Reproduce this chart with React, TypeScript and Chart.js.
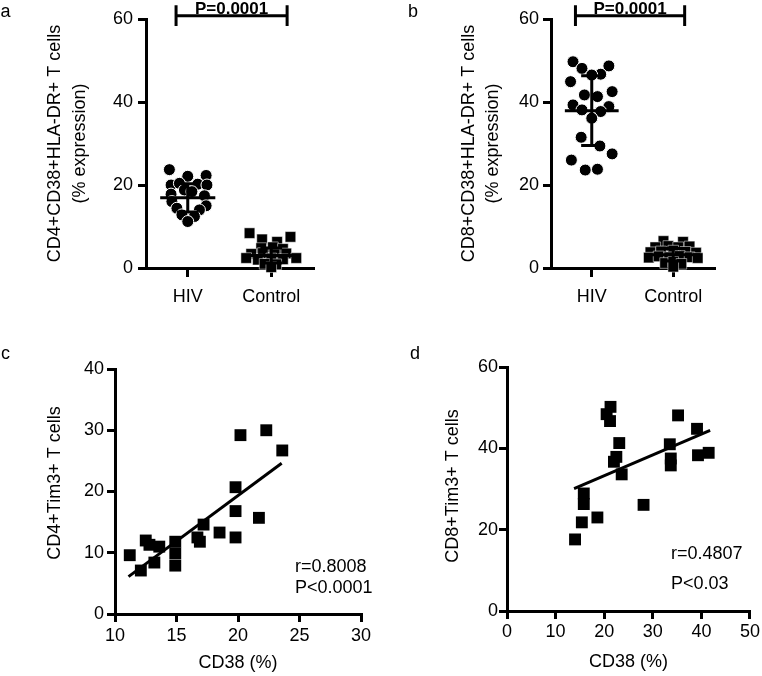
import React, { useEffect, useRef } from "react";
import { Chart, registerables } from "chart.js";

Chart.register(...registerables);

const FONT = '"Liberation Sans", Arial, Helvetica, sans-serif';

// ---------- Panels a & b (dot plots) ----------
const groups = ["HIV", "Control"];

// Panel a: CD4+CD38+HLA-DR+ T cells (% expression)
const aHivValues = [23.7, 22.1, 22.3, 20.0, 20.4, 20.2, 20.0, 18.8, 18.4, 17.8, 17.4, 16.0, 15.0, 14.4, 14.0, 12.8, 12.4, 11.2];
const aHivJitter = [-0.22, 0.0, 0.22, -0.2, -0.1, 0.12, 0.23, -0.04, 0.05, -0.2, 0.2, -0.19, 0.22, -0.13, 0.14, -0.07, 0.08, 0.0];
const aCtrlValues = [8.4, 6.9, 6.3, 7.5, 4.8, 5.0, 4.6, 3.4, 3.6, 3.3, 3.5, 2.4, 2.0, 2.3, 2.1, 2.4, 1.0, 0.9, 0.2];
const aCtrlJitter = [-0.26, -0.11, 0.07, 0.23, -0.12, 0.02, 0.14, -0.24, -0.1, 0.04, 0.18, -0.3, -0.16, 0.0, 0.14, 0.3, -0.08, 0.06, 0.0];
const aMeans = [16.9, 3.0];
const aSDs = [3.4, 1.8];
const aBracketX = [-0.14, 1.19];
const aBracketY = 60.8;
const aPText = "P=0.0001";

// Panel b: CD8+CD38+HLA-DR+ T cells (% expression)
const bHivValues = [49.7, 48.1, 48.7, 46.7, 46.5, 44.9, 42.5, 41.7, 41.3, 39.3, 38.9, 38.1, 37.7, 36.1, 31.5, 29.4, 27.5, 26.0, 23.6, 23.8];
const bHivJitter = [-0.23, -0.12, 0.21, 0.11, 0.0, -0.26, 0.25, -0.09, 0.07, -0.23, 0.21, -0.12, 0.11, 0.0, -0.13, 0.1, 0.25, -0.25, -0.08, 0.07];
const bCtrlValues = [6.5, 6.3, 5.0, 5.3, 5.0, 5.2, 3.8, 4.0, 4.2, 3.9, 3.7, 2.5, 2.8, 2.6, 2.9, 2.6, 2.4, 1.2, 1.5, 1.0, 0.3];
const bCtrlJitter = [-0.12, 0.12, -0.22, -0.06, 0.06, 0.2, -0.28, -0.15, 0.0, 0.15, 0.28, -0.3, -0.18, -0.05, 0.08, 0.2, 0.3, -0.1, 0.0, 0.1, 0.0];
const bMeans = [37.9, 3.2];
const bSDs = [8.4, 1.5];
const bBracketX = [-0.2, 1.14];
const bBracketY = 60.8;
const bPText = "P=0.0001";

// ---------- Panel c: CD4+Tim3+ vs CD38 ----------
const cX = [11.2, 12.1, 12.5, 12.8, 13.2, 13.6, 14.9, 14.9, 14.9, 16.7, 16.9, 17.2, 18.5, 19.8, 19.8, 19.8, 20.2, 21.7, 22.3, 23.6];
const cY = [9.6, 7.1, 12.0, 11.3, 8.4, 11.0, 11.8, 9.9, 7.9, 12.5, 11.8, 14.6, 13.3, 12.5, 16.8, 20.7, 29.2, 15.7, 30.0, 26.7];
const cFitX = [11.1, 23.55];
const cFitY = [6.1, 24.6];
const cStats = ["r=0.8008", "P<0.0001"];

// ---------- Panel d: CD8+Tim3+ vs CD38 ----------
const dX = [14.0, 15.4, 15.8, 15.8, 18.6, 20.5, 21.3, 21.2, 22.0, 22.5, 23.1, 23.6, 28.1, 33.5, 33.7, 33.7, 35.2, 39.1, 39.3, 41.5];
const dY = [17.6, 21.8, 26.3, 28.9, 23.0, 48.4, 50.2, 46.7, 36.7, 37.9, 41.3, 33.6, 26.1, 41.0, 37.5, 35.8, 48.1, 44.8, 38.3, 38.9];
const dFitX = [13.8, 41.8];
const dFitY = [30.1, 44.4];
const dStats = ["r=0.4807", "P<0.03"];

// ---------- helpers ----------
const MEAN_HALF = 0.33;
const CAP_HALF = 0.13;
const BRACKET_CAP = 2.5;

type Note = {
  text: string | string[];
  x: number | ((c: any) => number);
  y: number | ((c: any) => number);
  font: string;
  align?: CanvasTextAlign;
  baseline?: CanvasTextBaseline;
  rotate?: number;
  lineHeight?: number;
};

function notesPlugin(notes: Note[]) {
  return {
    id: "notes",
    afterDraw(chart: any) {
      const ctx = chart.ctx as CanvasRenderingContext2D;
      for (const n of notes) {
        const x = typeof n.x === "function" ? n.x(chart) : n.x;
        const y = typeof n.y === "function" ? n.y(chart) : n.y;
        ctx.save();
        ctx.fillStyle = "#000";
        ctx.translate(x, y);
        if (n.rotate) ctx.rotate(n.rotate);
        ctx.font = n.font;
        ctx.textAlign = n.align ?? "left";
        ctx.textBaseline = n.baseline ?? "alphabetic";
        const lines = Array.isArray(n.text) ? n.text : [n.text];
        lines.forEach((l, i) => ctx.fillText(l, 0, i * (n.lineHeight ?? 0)));
        ctx.restore();
      }
    },
  };
}

const tickFont = { family: FONT, size: 18 };
const border = { display: true, color: "#000", width: 3 };
function grid(tickLength: number) {
  return { display: true, drawOnChartArea: false, drawTicks: true, tickLength, lineWidth: 3, color: "#000" };
}

function summaryPoints(means: number[], sds: number[]) {
  const pts: any[] = [];
  means.forEach((m, i) => {
    const s = sds[i];
    pts.push({ x: i - MEAN_HALF, y: m }, { x: i + MEAN_HALF, y: m }, { x: i, y: null });
    pts.push({ x: i, y: m - s }, { x: i, y: m + s }, { x: i, y: null });
    pts.push({ x: i - CAP_HALF, y: m + s }, { x: i + CAP_HALF, y: m + s }, { x: i, y: null });
    pts.push({ x: i - CAP_HALF, y: m - s }, { x: i + CAP_HALF, y: m - s }, { x: i, y: null });
  });
  return pts;
}

function bracketPoints(bx: number[], by: number) {
  return [
    { x: bx[0], y: by - BRACKET_CAP }, { x: bx[0], y: by + BRACKET_CAP }, { x: bx[0], y: null },
    { x: bx[0], y: by }, { x: bx[1], y: by }, { x: bx[1], y: null },
    { x: bx[1], y: by - BRACKET_CAP }, { x: bx[1], y: by + BRACKET_CAP },
  ];
}

const lineDs = (data: any[]) => ({
  data,
  showLine: true,
  borderColor: "#000",
  backgroundColor: "#000",
  borderWidth: 3,
  pointRadius: 0,
  spanGaps: false,
  clip: false as any,
});

function dotConfig(p: {
  hiv: number[]; hivJ: number[]; ctrl: number[]; ctrlJ: number[];
  means: number[]; sds: number[]; bx: number[]; by: number; pText: string;
  letter: string; letterX: number; title: string[]; titleX: number; titleLH: number;
  yWidth: number; padRight: number; yTickPad: number; ctrlRadius: number;
}) {
  const notes: Note[] = [
    { text: p.letter, x: p.letterX, y: 17, font: `18px ${FONT}` },
    {
      text: p.pText,
      x: (c) => (c.scales.x.getPixelForValue(p.bx[0]) + c.scales.x.getPixelForValue(p.bx[1])) / 2,
      y: 13.5,
      font: `bold 17px ${FONT}`,
      align: "center",
    },
    {
      text: p.title, x: p.titleX, y: (c) => (c.chartArea.top + c.chartArea.bottom) / 2,
      font: `18px ${FONT}`, align: "center", baseline: "middle", rotate: -Math.PI / 2, lineHeight: p.titleLH,
    },
  ];
  return {
    type: "scatter",
    data: {
      datasets: [
        lineDs(summaryPoints(p.means, p.sds)),
        lineDs(bracketPoints(p.bx, p.by)),
        {
          data: p.hiv.map((v, i) => ({ x: 0 + p.hivJ[i], y: v })),
          pointStyle: "circle", pointRadius: 6, backgroundColor: "#000",
          borderColor: "#fff", borderWidth: 1, clip: false,
        },
        {
          data: p.ctrl.map((v, i) => ({ x: 1 + p.ctrlJ[i], y: v })),
          pointStyle: "rect", pointRadius: p.ctrlRadius, backgroundColor: "#000",
          borderColor: "#fff", borderWidth: 0.5, clip: false,
        },
      ],
    },
    options: {
      animation: false, responsive: false, events: [],
      layout: { padding: { left: 0, top: 19, right: p.padRight, bottom: 0 } },
      plugins: { legend: { display: false }, tooltip: { enabled: false } },
      scales: {
        x: {
          type: "linear", min: -0.5, max: 1.5,
          afterBuildTicks: (s: any) => { s.ticks = groups.map((_, i) => ({ value: i })); },
          afterFit: (s: any) => { s.height = 62; },
          ticks: { color: "#000", font: tickFont, padding: 9, maxRotation: 0, autoSkip: false,
            callback: (v: any) => groups[v] ?? "" },
          grid: grid(9), border,
        },
        y: {
          min: 0, max: 60,
          afterFit: (s: any) => { s.width = p.yWidth; },
          ticks: { stepSize: 20, color: "#000", font: tickFont, padding: p.yTickPad },
          grid: grid(8), border,
        },
      },
    },
    plugins: [notesPlugin(notes)],
  };
}

function scatterConfig(p: {
  xs: number[]; ys: number[]; fitX: number[]; fitY: number[]; stats: string[];
  xMin: number; xMax: number; xStep: number; yMax: number; yStep: number;
  letter: string; letterX: number; title: string; titleX: number; titleY: number;
  statsX: number; statsY: number[]; top: number; padRight: number; yWidth: number; xHeight: number;
  xTickPad: number; yTickPad: number; xTitlePad: number;
}) {
  const notes: Note[] = [
    { text: p.letter, x: p.letterX, y: 29, font: `18px ${FONT}` },
    { text: p.title, x: p.titleX, y: p.titleY, font: `18px ${FONT}`, align: "center", baseline: "middle", rotate: -Math.PI / 2 },
    { text: p.stats[0], x: p.statsX, y: p.statsY[0], font: `18px ${FONT}` },
    { text: p.stats[1], x: p.statsX, y: p.statsY[1], font: `18px ${FONT}` },
  ];
  return {
    type: "scatter",
    data: {
      datasets: [
        lineDs(p.fitX.map((x, i) => ({ x, y: p.fitY[i] }))),
        {
          data: p.xs.map((x, i) => ({ x, y: p.ys[i] })),
          pointStyle: "rect", pointRadius: 8.4, backgroundColor: "#000", borderWidth: 0, clip: false,
        },
      ],
    },
    options: {
      animation: false, responsive: false, events: [],
      layout: { padding: { left: 0, top: p.top, right: p.padRight, bottom: 0 } },
      plugins: { legend: { display: false }, tooltip: { enabled: false } },
      scales: {
        x: {
          type: "linear", min: p.xMin, max: p.xMax,
          afterFit: (s: any) => { s.height = p.xHeight; },
          ticks: { stepSize: p.xStep, color: "#000", font: tickFont, padding: p.xTickPad, maxRotation: 0, autoSkip: false },
          grid: grid(8), border,
          title: { display: true, text: "CD38 (%)", color: "#000", font: tickFont, padding: { top: 0, bottom: p.xTitlePad } },
        },
        y: {
          min: 0, max: p.yMax,
          afterFit: (s: any) => { s.width = p.yWidth; },
          ticks: { stepSize: p.yStep, color: "#000", font: tickFont, padding: p.yTickPad },
          grid: grid(8), border,
        },
      },
    },
    plugins: [notesPlugin(notes)],
  };
}

function ChartCanvas({ left, top, width, height, build }: { left: number; top: number; width: number; height: number; build: () => any }) {
  const ref = useRef<HTMLCanvasElement>(null);
  useEffect(() => {
    const chart = new Chart(ref.current as HTMLCanvasElement, build());
    return () => chart.destroy();
  }, []);
  return (
    <canvas
      ref={ref}
      width={width}
      height={height}
      style={{ position: "absolute", left, top, width, height, display: "block" }}
    />
  );
}

export default function App() {
  return (
    <div style={{ position: "absolute", left: 0, top: 0, width: 762, height: 676, background: "#fff", overflow: "hidden" }}>
      <ChartCanvas left={0} top={0} width={381} height={330} build={() => dotConfig({
        hiv: aHivValues, hivJ: aHivJitter, ctrl: aCtrlValues, ctrlJ: aCtrlJitter,
        means: aMeans, sds: aSDs, bx: aBracketX, by: aBracketY, pText: aPText,
        letter: "a", letterX: 0.5, title: ["CD4+CD38+HLA-DR+ T cells", "(% expression)"], titleX: 55, titleLH: 25.5,
        yWidth: 146, padRight: 68, yTickPad: 5, ctrlRadius: 7.5,
      })} />
      <ChartCanvas left={381} top={0} width={381} height={330} build={() => dotConfig({
        hiv: bHivValues, hivJ: bHivJitter, ctrl: bCtrlValues, ctrlJ: bCtrlJitter,
        means: bMeans, sds: bSDs, bx: bBracketX, by: bBracketY, pText: bPText,
        letter: "b", letterX: 27, title: ["CD8+CD38+HLA-DR+ T cells", "(% expression)"], titleX: 88, titleLH: 24,
        yWidth: 170, padRight: 48, yTickPad: 4, ctrlRadius: 7.5,
      })} />
      <ChartCanvas left={0} top={330} width={381} height={346} build={() => scatterConfig({
        xs: cX, ys: cY, fitX: cFitX, fitY: cFitY, stats: cStats,
        xMin: 10, xMax: 30, xStep: 5, yMax: 40, yStep: 10,
        letter: "c", letterX: 1, title: "CD4+Tim3+ T cells", titleX: 55, titleY: 153,
        statsX: 295, statsY: [242, 263], top: 39, padRight: 20, yWidth: 115, xHeight: 62,
        xTickPad: 3, yTickPad: 3, xTitlePad: 2,
      })} />
      <ChartCanvas left={381} top={330} width={381} height={346} build={() => scatterConfig({
        xs: dX, ys: dY, fitX: dFitX, fitY: dFitY, stats: dStats,
        xMin: 0, xMax: 50, xStep: 10, yMax: 60, yStep: 20,
        letter: "d", letterX: 29, title: "CD8+Tim3+ T cells", titleX: 72, titleY: 156,
        statsX: 290, statsY: [229, 259], top: 37, padRight: 11, yWidth: 126, xHeight: 65,
        xTickPad: 2, yTickPad: 1, xTitlePad: 3,
      })} />
    </div>
  );
}
